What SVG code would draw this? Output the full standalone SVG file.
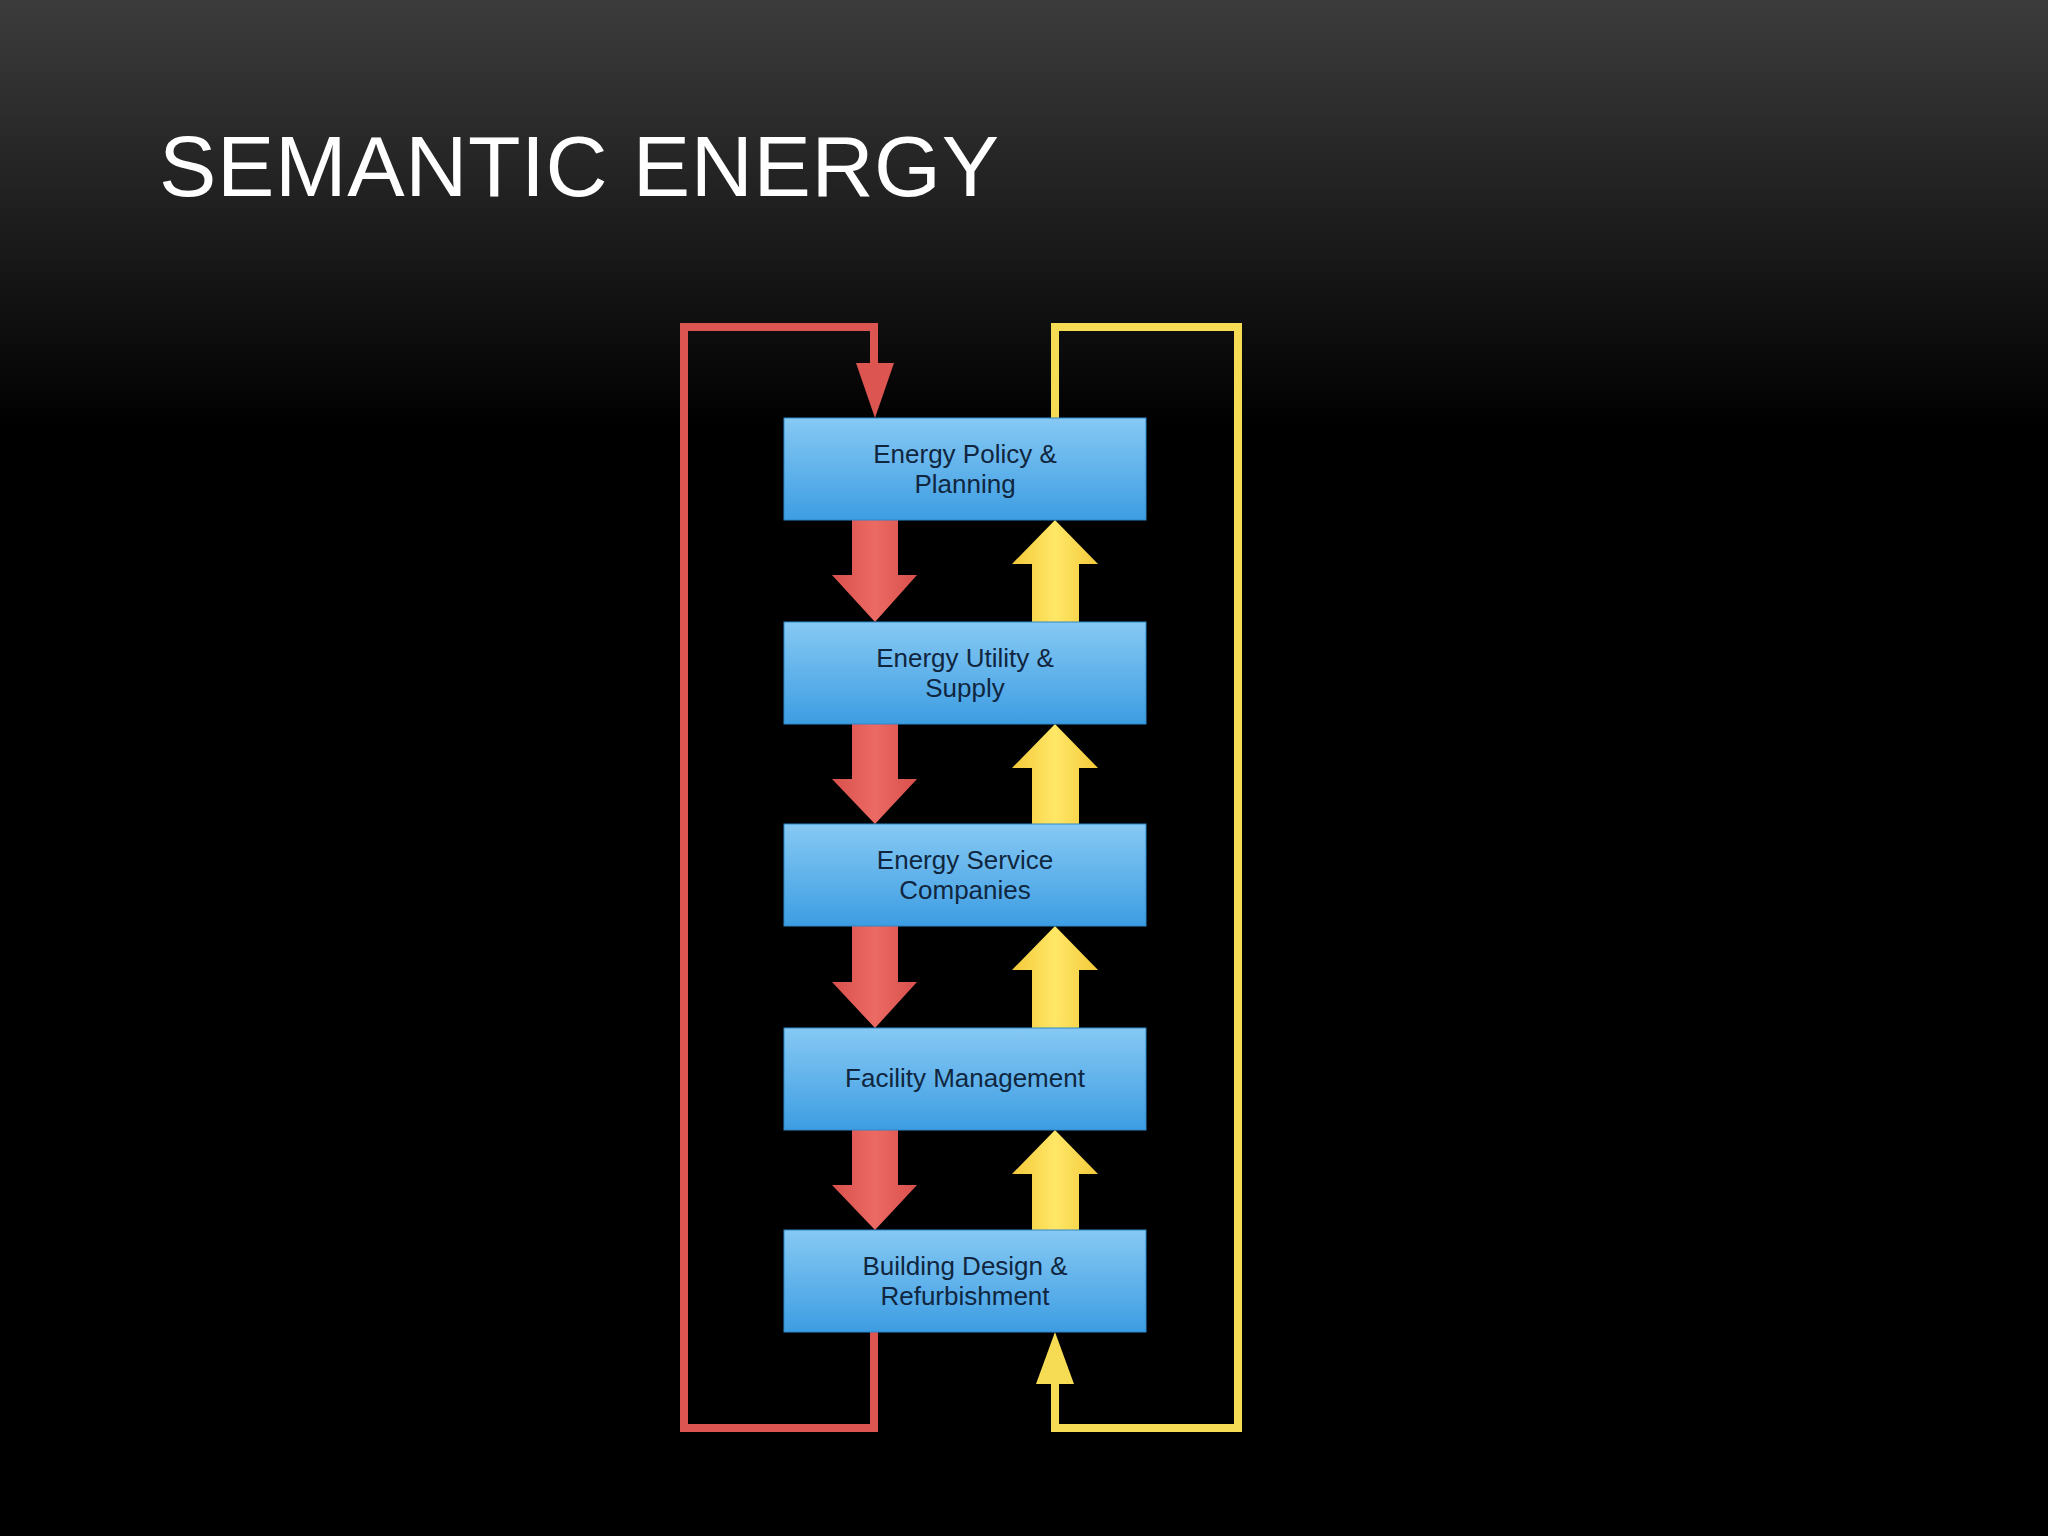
<svg xmlns="http://www.w3.org/2000/svg" width="2048" height="1536" viewBox="0 0 2048 1536">
<defs>
<linearGradient id="bg" x1="0" y1="0" x2="0" y2="1"><stop offset="0" stop-color="#3c3c3c"/><stop offset="0.28" stop-color="#000"/><stop offset="1" stop-color="#000"/></linearGradient>
<linearGradient id="box" x1="0" y1="0" x2="0" y2="1"><stop offset="0" stop-color="#86c9f4"/><stop offset="1" stop-color="#3d9de2"/></linearGradient>
<linearGradient id="red" x1="0" y1="0" x2="1" y2="0"><stop offset="0" stop-color="#d9504c"/><stop offset="0.5" stop-color="#ec6a64"/><stop offset="1" stop-color="#d9504c"/></linearGradient>
<linearGradient id="yel" x1="0" y1="0" x2="1" y2="0"><stop offset="0" stop-color="#f3c93a"/><stop offset="0.5" stop-color="#ffe767"/><stop offset="1" stop-color="#f3c93a"/></linearGradient>
<style>
.b{fill:url(#box);stroke:#2f87c8;stroke-width:1}
.t{font-family:"Liberation Sans",Arial,sans-serif;font-size:26px;fill:#10263f;text-anchor:middle}
.rl{fill:none;stroke:#dd5550;stroke-width:8}
.yl{fill:none;stroke:#f6dc55;stroke-width:8}
</style>
</defs>
<rect width="2048" height="1536" fill="url(#bg)"/>
<text x="159" y="196" font-family="Liberation Sans,Arial,sans-serif" font-size="86" fill="#fff" textLength="840">SEMANTIC ENERGY</text>
<g id="connectors">
<path class="rl" d="M874 1332 V1428 H684 V327 H874 V365"/>
<polygon points="856,363 894,363 875,418" fill="#dd5550"/>
<path class="yl" d="M1055 418 V327 H1238 V1428 H1055 V1382"/>
<polygon points="1036,1384 1074,1384 1055,1332" fill="#f6dc55"/>
<g fill="url(#red)">
<polygon points="852,520 898,520 898,575 917,575 875,622 832,575 852,575"/>
<polygon points="852,724 898,724 898,779 917,779 875,824 832,779 852,779"/>
<polygon points="852,926 898,926 898,982 917,982 875,1028 832,982 852,982"/>
<polygon points="852,1130 898,1130 898,1185 917,1185 875,1230 832,1185 852,1185"/>
</g>
<g fill="url(#yel)">
<polygon points="1055,520 1098,564 1079,564 1079,622 1032,622 1032,564 1012,564"/>
<polygon points="1055,724 1098,768 1079,768 1079,824 1032,824 1032,768 1012,768"/>
<polygon points="1055,926 1098,970 1079,970 1079,1028 1032,1028 1032,970 1012,970"/>
<polygon points="1055,1130 1098,1174 1079,1174 1079,1230 1032,1230 1032,1174 1012,1174"/>
</g>
</g>
<g id="n1"><rect class="b" x="784" y="418" width="362" height="102"/><text class="t" x="965" y="463">Energy Policy &amp;</text><text class="t" x="965" y="493">Planning</text></g>
<g id="n2"><rect class="b" x="784" y="622" width="362" height="102"/><text class="t" x="965" y="667">Energy Utility &amp;</text><text class="t" x="965" y="697">Supply</text></g>
<g id="n3"><rect class="b" x="784" y="824" width="362" height="102"/><text class="t" x="965" y="869">Energy Service</text><text class="t" x="965" y="899">Companies</text></g>
<g id="n4"><rect class="b" x="784" y="1028" width="362" height="102"/><text class="t" x="965" y="1087">Facility Management</text></g>
<g id="n5"><rect class="b" x="784" y="1230" width="362" height="102"/><text class="t" x="965" y="1275">Building Design &amp;</text><text class="t" x="965" y="1305">Refurbishment</text></g>
</svg>
